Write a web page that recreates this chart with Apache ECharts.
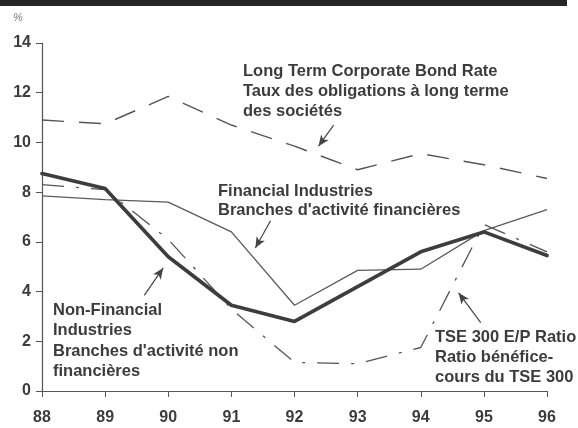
<!DOCTYPE html>
<html>
<head>
    <meta charset="utf-8">
    <title>Taux de rendement</title>
    <script src="https://cdn.jsdelivr.net/npm/echarts@6/dist/echarts.min.js"></script>
    <style>
        html, body { margin: 0; padding: 0; background: #fff; }
    </style>
</head>
<body>
    <div id="main" style="width: 578px;height:428px;"></div>
    <script type="text/javascript">
        // years on the x axis (88 = 1988)
        var years = [88, 89, 90, 91, 92, 93, 94, 95, 96];
        var yTicks = [0, 2, 4, 6, 8, 10, 12, 14];

        // values, in %
        var bondRate     = [10.9, 10.75, 11.85, 10.7, 9.85, 8.9, 9.55, 9.1, 8.55];
        var financial    = [7.85, 7.7, 7.6, 6.4, 3.45, 4.85, 4.9, 6.45, 7.3];
        var nonFinancial = [8.75, 8.15, 5.4, 3.45, 2.8, 4.2, 5.6, 6.4, 5.45];
        var tseEP        = [8.3, 8.1, 6.1, 3.3, 1.15, 1.1, 1.75, 6.7, 5.6];

        // arrows from the labels to the curves: [from x, from y, to x, to y] in data units
        var arrows = [
            [92.62, 10.7, 92.38, 9.85],
            [91.62, 6.85, 91.38, 5.75],
            [89.62, 3.85, 89.92, 4.95],
            [94.95, 2.75, 94.6, 3.95]
        ];

        var ink = '#3c3c3c';
        var font = '"Liberation Sans", Arial, sans-serif';

        function pairs(vals) {
            return years.map(function (y, i) { return [y, vals[i]]; });
        }

        var arrowData = arrows.map(function (a) {
            return [
                { coord: [a[0], a[1]], symbol: 'none' },
                { coord: [a[2], a[3]], symbol: 'arrow', symbolSize: [7, 11] }
            ];
        });

        var myChart = echarts.init(document.getElementById('main'));

        var option = {
            animation: false,
            backgroundColor: '#fff',
            grid: { left: 42, right: 31, top: 43, bottom: 37, containLabel: false },
            xAxis: {
                type: 'value',
                min: 88, max: 96, interval: 1,
                axisLine: { lineStyle: { color: '#555', width: 1.2 } },
                axisTick: { show: true, length: 6, inside: false, lineStyle: { color: '#555' } },
                axisLabel: { margin: 19, color: ink, fontSize: 16, fontWeight: 'bold', fontFamily: font },
                splitLine: { show: false }
            },
            yAxis: {
                type: 'value',
                min: 0, max: 14, interval: 2,
                axisLine: { show: true, lineStyle: { color: '#555', width: 1.2 } },
                axisTick: { show: true, length: 6, lineStyle: { color: '#555' } },
                axisLabel: {
                    margin: 11, color: ink, fontSize: 16, fontWeight: 'bold', fontFamily: font,
                    formatter: function (v) { return yTicks.indexOf(v) >= 0 ? String(v) : ''; }
                },
                splitLine: { show: false }
            },
            graphic: [
                { type: 'rect', left: 0, top: 0, shape: { width: 567, height: 6 }, style: { fill: '#262626' } },
                { type: 'text', left: 13, top: 12, style: { text: '%', fill: '#777', font: 'italic 11px ' + font } },
                { type: 'text', left: 243, top: 61, style: {
                    text: 'Long Term Corporate Bond Rate\nTaux des obligations à long terme\ndes sociétés',
                    fill: ink, font: 'bold 16.5px ' + font, lineHeight: 20 } },
                { type: 'text', left: 218, top: 182, style: {
                    text: 'Financial Industries\nBranches d\'activité financières',
                    fill: ink, font: 'bold 16.5px ' + font, lineHeight: 19 } },
                { type: 'text', left: 53, top: 300, style: {
                    text: 'Non-Financial\nIndustries\nBranches d\'activité non\nfinancières',
                    fill: ink, font: 'bold 16.5px ' + font, lineHeight: 20.5 } },
                { type: 'text', left: 435, top: 327, style: {
                    text: 'TSE 300 E/P Ratio\nRatio bénéfice-\ncours du TSE 300',
                    fill: ink, font: 'bold 16.5px ' + font, lineHeight: 20 } }
            ],
            series: [
                {
                    name: 'Long Term Corporate Bond Rate',
                    type: 'line',
                    data: pairs(bondRate),
                    symbol: 'none',
                    lineStyle: { color: '#555', width: 1.4, type: [22, 15] },
                    markLine: {
                        silent: true,
                        symbol: ['none', 'arrow'],
                        label: { show: false },
                        lineStyle: { color: '#444', width: 1.2, type: 'solid' },
                        data: arrowData
                    }
                },
                {
                    name: 'TSE 300 E/P Ratio',
                    type: 'line',
                    data: pairs(tseEP),
                    symbol: 'none',
                    lineStyle: { color: '#555', width: 1.3, type: [22, 12, 3, 12] }
                },
                {
                    name: 'Financial Industries',
                    type: 'line',
                    data: pairs(financial),
                    symbol: 'none',
                    lineStyle: { color: '#5a5a5a', width: 1.3 }
                },
                {
                    name: 'Non-Financial Industries',
                    type: 'line',
                    data: pairs(nonFinancial),
                    symbol: 'none',
                    lineStyle: { color: '#3d3d3d', width: 3.6, join: 'round', cap: 'round' }
                }
            ]
        };

        myChart.setOption(option);
    </script>
</body>
</html>
